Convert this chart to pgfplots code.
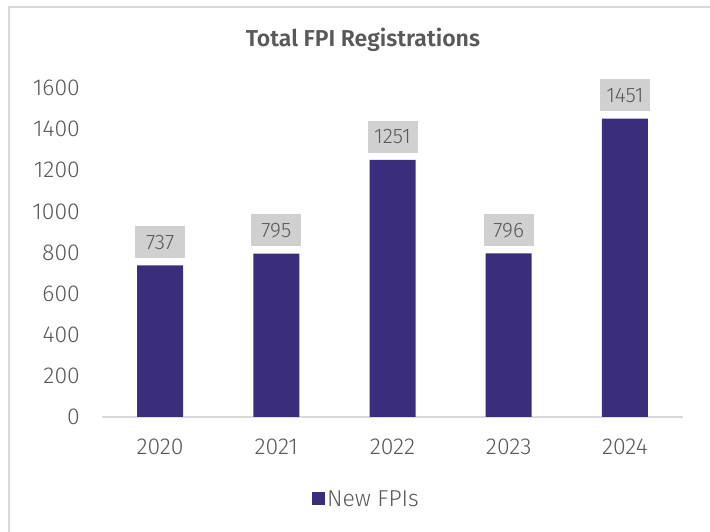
\documentclass[border=0pt]{standalone}
\usepackage{fontspec}
\setmainfont{Fira Sans Light}[BoldFont={Fira Sans SemiBold}]
\usepackage{pgfplots}
\pgfplotsset{compat=1.18}
\definecolor{barcol}{HTML}{3A2E7C}
\definecolor{lblgrey}{HTML}{D0D0D0}
\definecolor{txtgrey}{HTML}{595959}
\definecolor{linegrey}{HTML}{D9D9D9}
\begin{document}
\begin{tikzpicture}[x=1bp,y=1bp]
\path[use as bounding box] (0,0) rectangle (710,532);
\draw[linegrey, line width=1.5bp] (9,0) -- (9,525) -- (710,525);
\begin{axis}[
  at={(102bp,115bp)}, anchor=south west,
  scale only axis, width=581bp, height=329bp,
  xmin=-0.5, xmax=4.5, ymin=0, ymax=1600,
  ybar, bar width=46bp,
  axis x line*=bottom, axis y line*=left,
  x axis line style={draw=linegrey, line width=1.5bp, -},
  y axis line style={draw=none},
  major tick length=0pt,
  xtick={0,1,2,3,4},
  xticklabels={2020,2021,2022,2023,2024},
  ytick={0,200,...,1600},
  /pgf/number format/1000 sep={},
  /pgf/number format/assume math mode=true,
  ticklabel style={font=\fontsize{23bp}{26bp}\selectfont, text=txtgrey, inner sep=0pt},
  yticklabel style={anchor=east, xshift=-22bp},
  xticklabel style={anchor=north, yshift=-22bp},
  title={Total FPI Registrations},
  title style={at={(axis description cs:0.4492,1.1094)}, anchor=base, font=\bfseries\fontsize{23bp}{26bp}\selectfont, text=txtgrey, inner sep=0pt},
  nodes near coords,
  nodes near coords style={fill=lblgrey, minimum width=50bp, minimum height=32bp, anchor=south, yshift=7bp, inner sep=0pt, font=\fontsize{21bp}{24bp}\selectfont, text=txtgrey},
  legend style={draw=none, fill=none, inner sep=0pt, at={(axis description cs:0.3614,-0.2492)}, anchor=west, font=\fontsize{23bp}{26bp}\selectfont, text=txtgrey},
  legend image code/.code={\fill[barcol] (0bp,-6.5bp) rectangle (13bp,6.5bp);},
]
\addplot[fill=barcol, draw=none] coordinates {(0,737) (1,795) (2,1251) (3,796) (4,1451)};
\addlegendentry{New FPIs}
\end{axis}
\end{tikzpicture}
\end{document}
